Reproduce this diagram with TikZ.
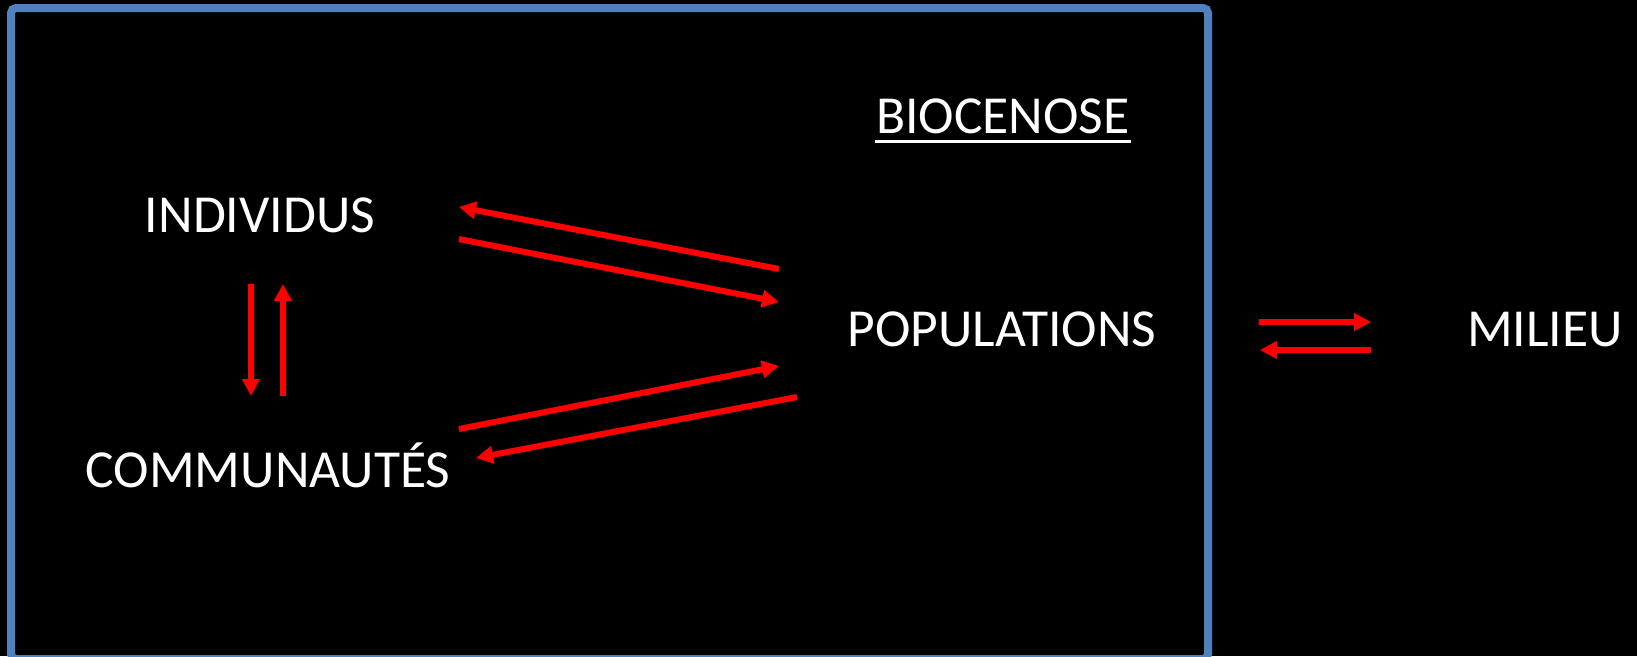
\documentclass[tikz,border=0pt]{standalone}
\usepackage{fontspec}
\setmainfont{Carlito}
\usetikzlibrary{arrows.meta}
\definecolor{frameblue}{HTML}{4F81BD}
\definecolor{arrowred}{HTML}{FF0000}
\tikzset{
  lbl/.style={text=white, inner sep=0pt, anchor=base, font=\fontsize{53.5}{64}\selectfont},
  redarrow/.style={draw=arrowred, line width=6pt, -{Triangle[length=17pt,width=17pt]}},
  framebox/.style={draw=frameblue, line width=8pt, rounded corners=5pt}
}
\begin{document}
\begin{tikzpicture}[x=1pt,y=-1pt]
\useasboundingbox (0,0) rectangle (1637,656);
\fill[black] (0,0) rectangle (1637,656);
\draw[framebox] (11,8) rectangle (1208,659);
% labels
\node[lbl] (bio) at (1003,133) {BIOCENOSE};
\draw[white, line width=3pt] ([yshift=-8pt,xshift=-1pt]bio.base west) -- ([yshift=-8pt,xshift=1pt]bio.base east);
\node[lbl] (ind) at (260,232) {INDIVIDUS};
\node[lbl] (com) at (268,487) {COMMUNAUTÉS};
\node[lbl] (pop) at (1002,346) {POPULATIONS};
\node[lbl] (mil) at (1545,346) {MILIEU};
% arrow end points
\coordinate (a1s) at (779,269); \coordinate (a1e) at (459,207);
\coordinate (a2s) at (459,239); \coordinate (a2e) at (779,302);
\coordinate (a3s) at (459,429); \coordinate (a3e) at (779,366);
\coordinate (a4s) at (797,397); \coordinate (a4e) at (476,458);
\coordinate (v1s) at (251,284); \coordinate (v1e) at (251,396);
\coordinate (v2s) at (283,396); \coordinate (v2e) at (283,284);
\coordinate (h1s) at (1259,322); \coordinate (h1e) at (1371,322);
\coordinate (h2s) at (1371,350); \coordinate (h2e) at (1260,350);
\draw[redarrow] (a1s) -- (a1e);
\draw[redarrow] (a2s) -- (a2e);
\draw[redarrow] (a3s) -- (a3e);
\draw[redarrow] (a4s) -- (a4e);
\draw[redarrow] (v1s) -- (v1e);
\draw[redarrow] (v2s) -- (v2e);
\draw[redarrow] (h1s) -- (h1e);
\draw[redarrow] (h2s) -- (h2e);
\end{tikzpicture}
\end{document}
